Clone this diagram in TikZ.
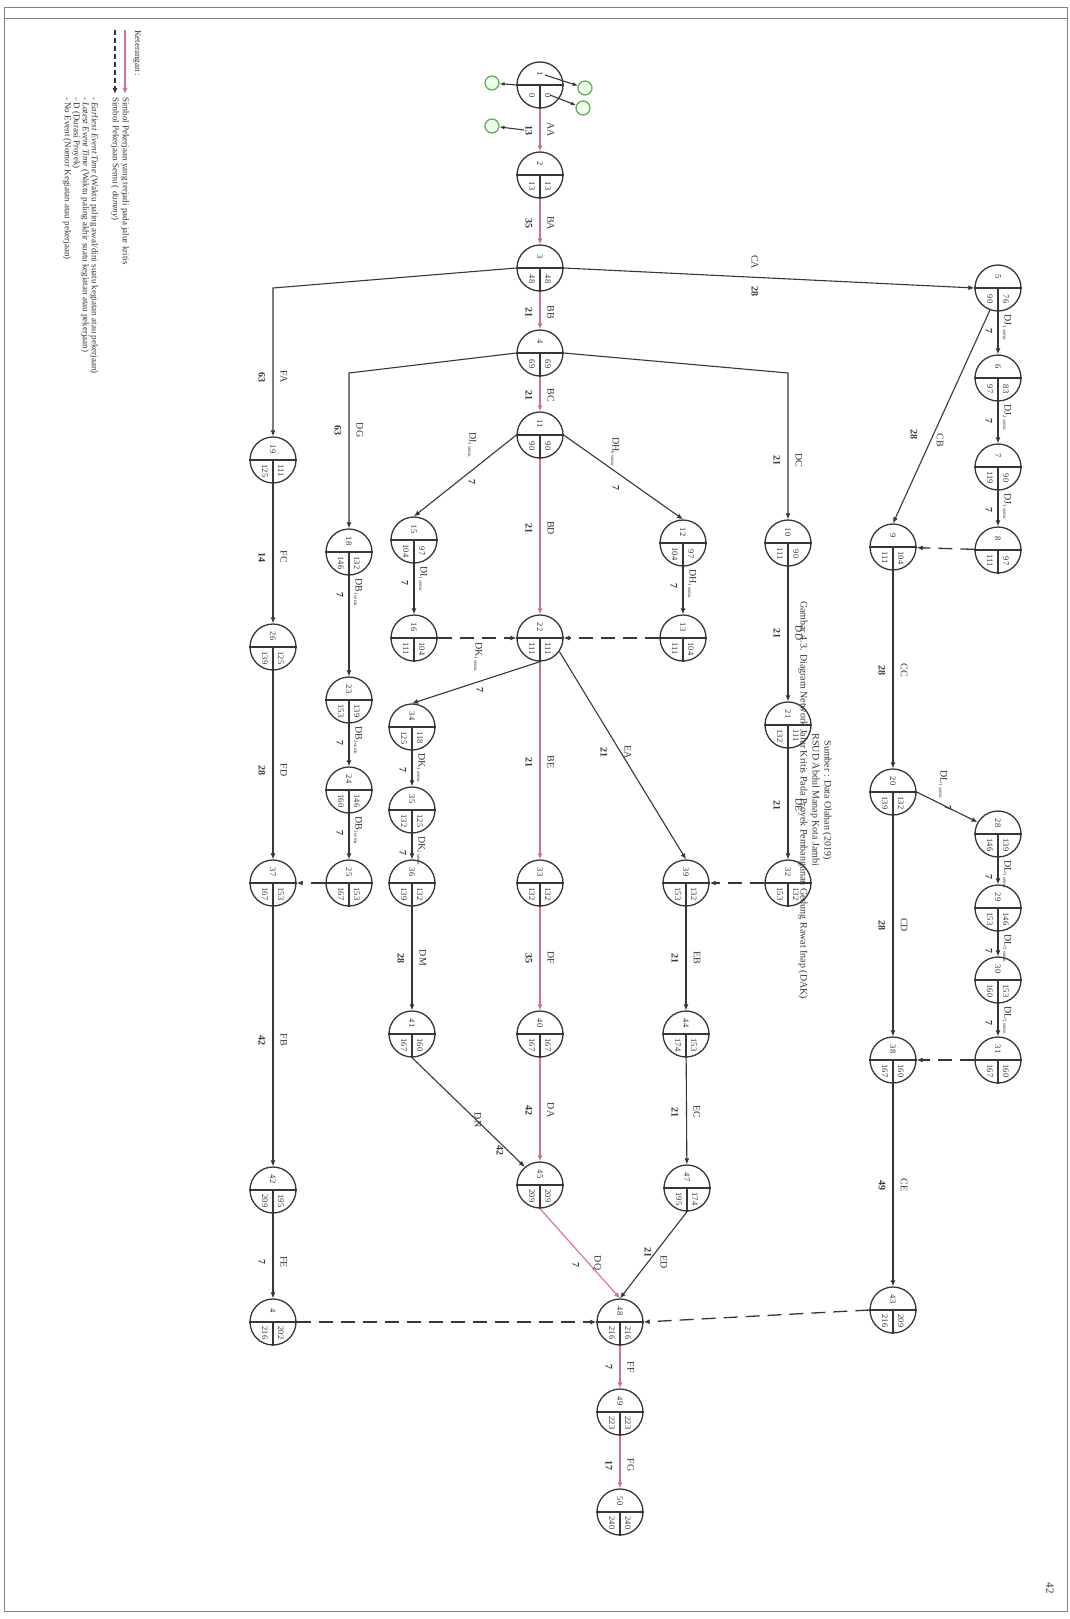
\documentclass[tikz,border=0pt]{standalone}
\usepackage{fontspec}
\setmainfont{Liberation Serif}
\usetikzlibrary{arrows.meta,calc}
\definecolor{crit}{RGB}{214,110,140}
\definecolor{ink}{RGB}{55,55,55}
\definecolor{grn}{RGB}{90,170,90}
\tikzset{
 evc/.style={circle, draw=ink, line width=1.3pt, minimum size=46pt, inner sep=0pt, fill=white},
 evt/.style={font=\fontsize{8.5}{9}\selectfont, rotate=-90, inner sep=0pt, text=ink},
 act/.style={draw=ink, line width=1.1pt, -{Latex[length=6pt,width=5pt]}},
 critact/.style={draw=crit, line width=1.1pt, -{Latex[length=6pt,width=5pt]}},
 dum/.style={draw=ink, line width=1.3pt, dash pattern=on 14pt off 8pt, -{Latex[length=6pt,width=5pt]}},
 lbl/.style={font=\fontsize{10}{11}\selectfont, rotate=-90, inner sep=0pt, text=ink},
 dur/.style={font=\bfseries\fontsize{10}{11}\selectfont, rotate=-90, inner sep=0pt, text=ink},
 leg/.style={font=\fontsize{9}{10}\selectfont, rotate=-90, inner sep=0pt, text=ink, anchor=west},
 gcirc/.style={circle, draw=grn, line width=1.2pt, minimum size=14pt, inner sep=0pt, fill=green!8},
 annot/.style={draw=ink, line width=1.1pt, -{Latex[length=5pt,width=4pt]}},
}
\newcommand{\evnode}[6]{%
 \node[evc] (#1) at (#2,#3) {};
 \draw[ink, line width=1.1pt] (#1.west) -- (#1.east) (#1.center) -- (#1.south);
 \node[evt] at ($(#1.center)+(0,-11)$) {#4};
 \node[evt] at ($(#1.center)+(8,11)$) {#5};
 \node[evt] at ($(#1.center)+(-8,11)$) {#6};
}
\newcommand{\elab}[4]{%
 \node[lbl] at (#1+11,#2) {#3};
 \node[dur] at (#1-11,#2) {#4};
}
\newcommand{\chl}[4]{% x, ytop, name, dur
 \node[lbl, anchor=west] at (#1+9,#2+3) {#3};
 \node[dur] at (#1-9,#2+20) {#4};
}
\newcommand{\sm}[2]{#1\textsubscript{\fontsize{5}{5}\selectfont #2}}
\begin{document}
\begin{tikzpicture}[x=1pt,y=-1pt]
\useasboundingbox (0,0) rectangle (1070,1619);
\fill[white] (0,0) rectangle (1070,1619);
\draw[gray, line width=1pt] (4,8) rectangle (1067,1611);
\draw[gray, line width=0.8pt] (4,18) -- (1067,18);

% ---- events
\evnode{n1}{540}{85}{1}{0}{0}
\evnode{n2}{540}{175}{2}{13}{13}
\evnode{n3}{540}{268}{3}{48}{48}
\evnode{n4}{540}{353}{4}{69}{69}
\evnode{n11}{540}{435}{11}{90}{90}
\evnode{n22}{540}{638}{22}{111}{111}
\evnode{n33}{540}{883}{33}{132}{132}
\evnode{n40}{540}{1034}{40}{167}{167}
\evnode{n45}{540}{1185}{45}{209}{209}
\evnode{n48}{620}{1322}{48}{216}{216}
\evnode{n49}{620}{1412}{49}{223}{223}
\evnode{n50}{620}{1512}{50}{240}{240}
\evnode{n5}{998}{288}{5}{76}{90}
\evnode{n6}{998}{378}{6}{83}{97}
\evnode{n7}{998}{467}{7}{90}{119}
\evnode{n8}{998}{550}{8}{97}{111}
\evnode{n9}{893}{547}{9}{104}{111}
\evnode{n20}{893}{792}{20}{132}{139}
\evnode{n28}{998}{834}{28}{139}{146}
\evnode{n29}{998}{908}{29}{146}{153}
\evnode{n30}{998}{980}{30}{153}{160}
\evnode{n31}{998}{1060}{31}{160}{167}
\evnode{n38}{893}{1060}{38}{160}{167}
\evnode{n43}{893}{1310}{43}{209}{216}
\evnode{n10}{788}{543}{10}{90}{111}
\evnode{n21}{788}{725}{21}{111}{132}
\evnode{n32}{788}{883}{32}{132}{153}
\evnode{n12}{683}{543}{12}{97}{104}
\evnode{n13}{683}{638}{13}{104}{111}
\evnode{n39}{686}{883}{39}{132}{153}
\evnode{n44}{686}{1034}{44}{153}{174}
\evnode{n47}{687}{1188}{47}{174}{195}
\evnode{n15}{414}{540}{15}{97}{104}
\evnode{n16}{414}{638}{16}{104}{111}
\evnode{n34}{412}{727}{34}{118}{125}
\evnode{n35}{412}{810}{35}{125}{132}
\evnode{n36}{412}{883}{36}{132}{139}
\evnode{n41}{412}{1034}{41}{160}{167}
\evnode{n18}{349}{552}{18}{132}{146}
\evnode{n23}{349}{700}{23}{139}{153}
\evnode{n24}{349}{790}{24}{146}{160}
\evnode{n25}{349}{883}{25}{153}{167}
\evnode{n19}{273}{460}{19}{111}{125}
\evnode{n26}{273}{647}{26}{125}{139}
\evnode{n37}{273}{883}{37}{153}{167}
\evnode{n42}{273}{1190}{42}{195}{209}
\evnode{n46}{273}{1322}{4}{202}{216}

% ---- critical path
\draw[critact] (n1) -- (n2);
\draw[critact] (n2) -- (n3);
\draw[critact] (n3) -- (n4);
\draw[critact] (n4) -- (n11);
\draw[critact] (n11) -- (n22);
\draw[critact] (n22) -- (n33);
\draw[critact] (n33) -- (n40);
\draw[critact] (n40) -- (n45);
\draw[critact] (n45.south) -- (n48.north);
\draw[critact] (n48) -- (n49);
\draw[critact] (n49) -- (n50);

% ---- other activities
\coordinate (cFA) at (273,288);
\coordinate (cDG) at (349,373);
\coordinate (cDC) at (788,373);
\draw[act] (n3.west) -- (cFA) -- (n19.north);
\draw[act] (n4.west) -- (cDG) -- (n18.north);
\draw[act] (n4.east) -- (cDC) -- (n10.north);
\draw[act] (n3.east) -- (n5.west);
\draw[act] (n5) -- (n6);
\draw[act] (n6) -- (n7);
\draw[act] (n7) -- (n8);
\draw[act] (n5.-110) -- (n9.north);
\draw[act] (n9) -- (n20);
\draw[act] (n20.east) -- (n28.150);
\draw[act] (n28) -- (n29);
\draw[act] (n29) -- (n30);
\draw[act] (n30) -- (n31);
\draw[act] (n20) -- (n38);
\draw[act] (n38) -- (n43);
\draw[act] (n10) -- (n21);
\draw[act] (n21) -- (n32);
\draw[act] (n11.west) -- (n15.north);
\draw[act] (n11.east) -- (n12.north);
\draw[act] (n12) -- (n13);
\draw[act] (n15) -- (n16);
\draw[act] (n22.-35) -- (n39.north);
\draw[act] (n39) -- (n44);
\draw[act] (n44) -- (n47);
\draw[act] (n47.south) -- (n48.north);
\draw[act] (n22.south) -- (n34.north);
\draw[act] (n34) -- (n35);
\draw[act] (n35) -- (n36);
\draw[act] (n36) -- (n41);
\draw[act] (n41.south) -- (n45.130);
\draw[act] (n18) -- (n23);
\draw[act] (n23) -- (n24);
\draw[act] (n24) -- (n25);
\draw[act] (n19) -- (n26);
\draw[act] (n26) -- (n37);
\draw[act] (n37) -- (n42);
\draw[act] (n42) -- (n46);

% ---- dummies
\draw[dum] (n8) -- (n9);
\draw[dum] (n31) -- (n38);
\draw[dum] (n43.west) -- (n48.east);
\draw[dum] (n46.east) -- (n48.west);
\draw[dum] (n32) -- (n39);
\draw[dum] (n13) -- (n22);
\draw[dum] (n16) -- (n22);
\draw[dum] (n25) -- (n37);

% ---- labels (name right, duration left)
\elab{540}{130}{AA}{13}
\elab{540}{223}{BA}{35}
\elab{540}{312}{BB}{21}
\elab{540}{395}{BC}{21}
\elab{540}{528}{BD}{21}
\elab{540}{762}{BE}{21}
\elab{540}{958}{DF}{35}
\elab{540}{1110}{DA}{42}
\elab{620}{1367}{FF}{7}
\elab{620}{1465}{FG}{17}
\elab{273}{377}{FA}{63}
\elab{349}{430}{DG}{63}
\elab{788}{460}{DC}{21}
\elab{273}{557}{FC}{14}
\elab{273}{770}{FD}{28}
\elab{273}{1040}{FB}{42}
\elab{273}{1262}{FE}{7}
\elab{788}{633}{DD}{21}
\elab{788}{805}{DE}{21}
\elab{893}{670}{CC}{28}
\elab{893}{925}{CD}{28}
\elab{893}{1185}{CE}{49}
\elab{686}{958}{EB}{21}
\elab{686}{1112}{EC}{21}
\elab{412}{958}{DM}{28}
\node[lbl] at (755,262) {CA};
\node[dur] at (755,291) {28};
\node[lbl] at (940,440) {CB};
\node[dur] at (914,434) {28};
\node[lbl] at (628,752) {EA};
\node[dur] at (604,752) {21};
\node[lbl] at (597,1263) {DQ};
\node[dur] at (576,1265) {7};
\node[lbl] at (664,1262) {ED};
\node[dur] at (648,1252) {21};
\node[lbl] at (478,1120) {DN};
\node[dur] at (500,1150) {42};

% chain labels
\chl{998}{311}{\sm{DJ}{1 semu}}{7}
\chl{998}{401}{\sm{DJ}{2 semu}}{7}
\chl{998}{490}{\sm{DJ}{3 semu}}{7}
\chl{998}{857}{\sm{DL}{1 semu}}{7}
\chl{998}{931}{\sm{DL}{2 semu}}{7}
\chl{998}{1003}{\sm{DL}{3 semu}}{7}
\chl{683}{566}{\sm{DH}{1 semu}}{7}
\chl{414}{563}{\sm{DI}{1 semu}}{7}
\chl{412}{750}{\sm{DK}{1 semu}}{7}
\chl{412}{833}{\sm{DK}{2 semu}}{7}
\chl{349}{575}{\sm{DB}{1 semu}}{7}
\chl{349}{723}{\sm{DB}{2 semu}}{7}
\chl{349}{813}{\sm{DB}{3 semu}}{7}
\node[lbl, anchor=west] at (472,432) {\sm{DI}{1 semu}};
\node[dur] at (472,482) {7};
\node[lbl, anchor=west] at (615,437) {\sm{DH}{b semu}};
\node[dur] at (616,488) {7};
\node[lbl, anchor=west] at (478,642) {\sm{DK}{1 semu}};
\node[dur] at (480,690) {7};
\node[lbl, anchor=west] at (943,770) {\sm{DL}{1 semu}};
\node[dur] at (948,808) {7};

% ---- green annotations at event 1
\node[gcirc] (g1) at (492,83) {};
\node[gcirc] (g2) at (585,88) {};
\node[gcirc] (g3) at (583,108) {};
\node[gcirc] (g4) at (492,126) {};
\coordinate (a2) at (545,75);
\coordinate (a3) at (550,95);
\coordinate (a4) at (524,130);
\draw[annot] (n1.west) -- (g1);
\draw[annot] (a2) -- (g2);
\draw[annot] (a3) -- (g3);
\draw[annot] (a4) -- (g4);

% ---- legend
\node[leg] (k0) at (137,30) {Keterangan :};
\coordinate (l1a) at (125,30); \coordinate (l1b) at (125,94);
\draw[critact] (l1a) -- (l1b);
\node[leg] (k1) at (125,97) {Simbol Pekerjaan yang terjadi pada jalur kritis};
\coordinate (l2a) at (115,30); \coordinate (l2b) at (115,94);
\draw[ink, line width=1.1pt, dash pattern=on 5pt off 3pt, -{Latex[length=6pt,width=5pt]}] (l2a) -- (l2b);
\node[leg] (k2) at (115,97) {Simbol Pekerjaan Semu ( \textit{dummy})};
\node[leg] (k3) at (94,97) {- \textit{Earliest Event Time} (Waktu paling awal/dini suatu kegiatan atau pekerjaan)};
\node[leg] (k4) at (85,97) {- \textit{Latest Event Time} (Waktu paling akhir suatu kegiatan atau pekerjaan)};
\node[leg] (k5) at (76,97) {- D (Durasi Proyek)};
\node[leg] (k6) at (67,97) {- No Event (Nomor Kegiatan atau pekerjaan)};

% ---- caption
\node[lbl] (cap1) at (803,800) {Gambar 4.3. Diagram Network Jalur Kritis Pada Proyek Pembangunan Gedung Rawat Inap (DAK)};
\node[lbl] (cap2) at (815,800) {RSUD Abdul Manap Kota Jambi};
\node[lbl] (cap3) at (827,800) {Sumber : Data Olahan (2019)};

% ---- page number
\node[lbl, font=\fontsize{11}{12}\selectfont] (pg) at (1050,1588) {42};
\end{tikzpicture}
\end{document}
